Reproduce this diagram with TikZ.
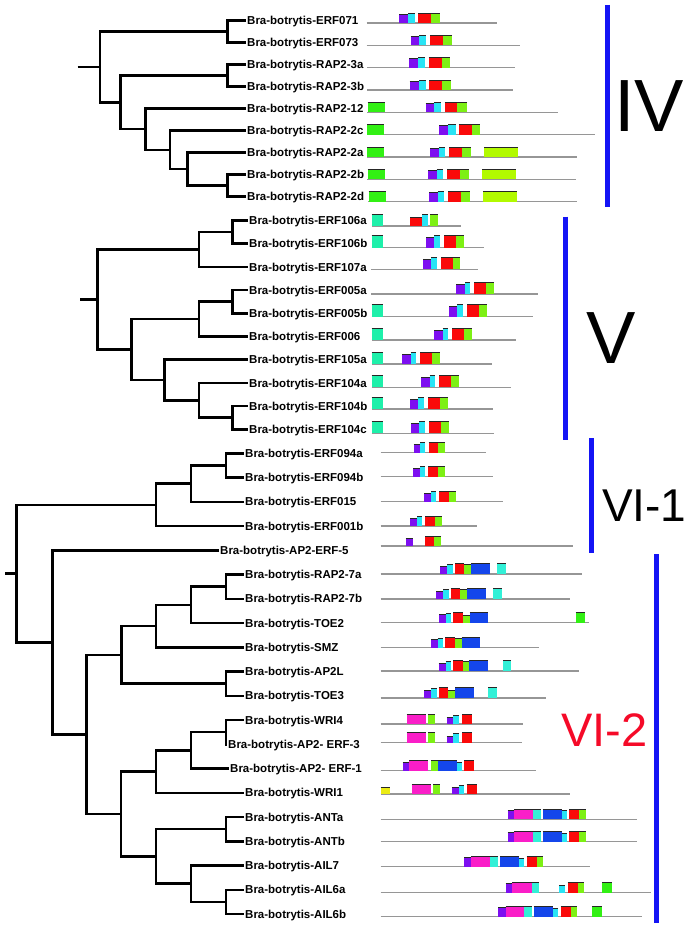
\documentclass[tikz,border=0pt]{standalone}
\usepackage{fontspec}
\setmainfont{Liberation Sans}
\usepackage{tikz}

\definecolor{dpurple}{RGB}{125,15,240}
\definecolor{dcyan}{RGB}{40,228,245}
\definecolor{dred}{RGB}{250,10,10}
\definecolor{dlime}{RGB}{125,240,20}
\definecolor{dgreen}{RGB}{50,240,20}
\definecolor{dyellowgreen}{RGB}{178,250,0}
\definecolor{dteal}{RGB}{30,240,170}
\definecolor{daqua}{RGB}{50,240,215}
\definecolor{dblue}{RGB}{20,70,235}
\definecolor{dmagenta}{RGB}{250,30,200}
\definecolor{dyellow}{RGB}{235,235,20}
\definecolor{rowgray}{RGB}{150,150,150}
\definecolor{barblue}{RGB}{20,20,245}
\definecolor{labelred}{RGB}{245,10,40}

% domain box: colour, left, right, baseline, height
\newcommand{\dbox}[5]{%
  \fill[#1] (#2,#4) rectangle (#3,#4-#5);
  \draw[box_top] (#2,#4-#5) -- (#3,#4-#5);}

\begin{document}
\begin{tikzpicture}[x=1pt,y=-1pt,
  leaf_node/.style={anchor=west,inner xsep=1pt,inner ysep=0pt,text height=8.3pt,text depth=0pt,font=\fontsize{11.5}{12}\selectfont\bfseries},
  branch/.style={line width=2.5pt},
  row_line/.style={draw=rowgray,line width=1.3pt},
  box_top/.style={line width=0.8pt,black!85},
  group_bar/.style={draw=barblue,line width=5pt},
  group_label/.style={anchor=base west,inner sep=0pt}]

\useasboundingbox (0,0) rectangle (689,928);

% ---------- group IV ----------
\node[leaf_node] (erf071) at (246,20.5) {Bra-botrytis-ERF071};
\node[leaf_node] (erf073) at (246,42.5) {Bra-botrytis-ERF073};
\node[leaf_node] (rap23a) at (246,64.5) {Bra-botrytis-RAP2-3a};
\node[leaf_node] (rap23b) at (246,86.5) {Bra-botrytis-RAP2-3b};
\node[leaf_node] (rap212) at (246,108.5) {Bra-botrytis-RAP2-12};
\node[leaf_node] (rap22c) at (246,130.5) {Bra-botrytis-RAP2-2c};
\node[leaf_node] (rap22a) at (246,152.5) {Bra-botrytis-RAP2-2a};
\node[leaf_node] (rap22b) at (246,174.5) {Bra-botrytis-RAP2-2b};
\node[leaf_node] (rap22d) at (246,196.5) {Bra-botrytis-RAP2-2d};

\coordinate (iv0) at (77.7,67);
\coordinate (iv1) at (100,67);
\coordinate (iv2) at (227.7,31.5);
\coordinate (iv3) at (120.7,102.5);
\coordinate (iv4) at (227.7,75.5);
\coordinate (iv5) at (145.7,129);
\coordinate (iv6) at (170,150);
\coordinate (iv7) at (187.7,169);
\coordinate (iv8) at (227.7,185.5);

\draw[branch] (iv0) -- (iv1);
\draw[branch] (iv1) |- (iv2);
\draw[branch] (iv1) |- (iv3);
\draw[branch] (iv2) |- (erf071.west);
\draw[branch] (iv2) |- (erf073.west);
\draw[branch] (iv3) |- (iv4);
\draw[branch] (iv3) |- (iv5);
\draw[branch] (iv4) |- (rap23a.west);
\draw[branch] (iv4) |- (rap23b.west);
\draw[branch] (iv5) |- (rap212.west);
\draw[branch] (iv5) |- (iv6);
\draw[branch] (iv6) |- (rap22c.west);
\draw[branch] (iv6) |- (iv7);
\draw[branch] (iv7) |- (rap22a.west);
\draw[branch] (iv7) |- (iv8);
\draw[branch] (iv8) |- (rap22b.west);
\draw[branch] (iv8) |- (rap22d.west);

% ---------- group V ----------
\node[leaf_node] (erf106a) at (248,220.5) {Bra-botrytis-ERF106a};
\node[leaf_node] (erf106b) at (248,243.7) {Bra-botrytis-ERF106b};
\node[leaf_node] (erf107a) at (248,266.9) {Bra-botrytis-ERF107a};
\node[leaf_node] (erf005a) at (248,290.1) {Bra-botrytis-ERF005a};
\node[leaf_node] (erf005b) at (248,313.3) {Bra-botrytis-ERF005b};
\node[leaf_node] (erf006) at (248,336.5) {Bra-botrytis-ERF006};
\node[leaf_node] (erf105a) at (248,359.7) {Bra-botrytis-ERF105a};
\node[leaf_node] (erf104a) at (248,382.9) {Bra-botrytis-ERF104a};
\node[leaf_node] (erf104b) at (248,406.1) {Bra-botrytis-ERF104b};
\node[leaf_node] (erf104c) at (248,429.3) {Bra-botrytis-ERF104c};

\coordinate (v0) at (80,299.5);
\coordinate (v1) at (97.7,299.5);
\coordinate (v2) at (199,249.5);
\coordinate (v3) at (232.3,232);
\coordinate (v4) at (131.7,349.5);
\coordinate (v5) at (199,319);
\coordinate (v6) at (232.3,301.7);
\coordinate (v7) at (164.3,380);
\coordinate (v8) at (199,400.3);
\coordinate (v9) at (232.3,417.7);

\draw[branch] (v0) -- (v1);
\draw[branch] (v1) |- (v2);
\draw[branch] (v1) |- (v4);
\draw[branch] (v2) |- (v3);
\draw[branch] (v2) |- (erf107a.west);
\draw[branch] (v3) |- (erf106a.west);
\draw[branch] (v3) |- (erf106b.west);
\draw[branch] (v4) |- (v5);
\draw[branch] (v4) |- (v7);
\draw[branch] (v5) |- (v6);
\draw[branch] (v5) |- (erf006.west);
\draw[branch] (v6) |- (erf005a.west);
\draw[branch] (v6) |- (erf005b.west);
\draw[branch] (v7) |- (erf105a.west);
\draw[branch] (v7) |- (v8);
\draw[branch] (v8) |- (erf104a.west);
\draw[branch] (v8) |- (v9);
\draw[branch] (v9) |- (erf104b.west);
\draw[branch] (v9) |- (erf104c.west);

% ---------- group VI ----------
\node[leaf_node] (erf094a) at (244,453.3) {Bra-botrytis-ERF094a};
\node[leaf_node] (erf094b) at (244,477.5) {Bra-botrytis-ERF094b};
\node[leaf_node] (erf015) at (244,501.8) {Bra-botrytis-ERF015};
\node[leaf_node] (erf001b) at (244,526) {Bra-botrytis-ERF001b};
\node[leaf_node] (aperf5) at (219,550.3) {Bra-botrytis-AP2-ERF-5};
\node[leaf_node] (rap27a) at (244,574.5) {Bra-botrytis-RAP2-7a};
\node[leaf_node] (rap27b) at (244,598.8) {Bra-botrytis-RAP2-7b};
\node[leaf_node] (toe2) at (244,623) {Bra-botrytis-TOE2};
\node[leaf_node] (smz) at (244,647.3) {Bra-botrytis-SMZ};
\node[leaf_node] (ap2l) at (244,671.5) {Bra-botrytis-AP2L};
\node[leaf_node] (toe3) at (244,695.8) {Bra-botrytis-TOE3};
\node[leaf_node] (wri4) at (244,720) {Bra-botrytis-WRI4};
\node[leaf_node] (aperf3) at (227,744.3) {Bra-botrytis-AP2- ERF-3};
\node[leaf_node] (aperf1) at (229,768.5) {Bra-botrytis-AP2- ERF-1};
\node[leaf_node] (wri1) at (244,792.8) {Bra-botrytis-WRI1};
\node[leaf_node] (anta) at (244,817) {Bra-botrytis-ANTa};
\node[leaf_node] (antb) at (244,841.3) {Bra-botrytis-ANTb};
\node[leaf_node] (ail7) at (244,865.5) {Bra-botrytis-AIL7};
\node[leaf_node] (ail6a) at (244,889.8) {Bra-botrytis-AIL6a};
\node[leaf_node] (ail6b) at (244,914) {Bra-botrytis-AIL6b};

\coordinate (vi0) at (5,573.6);
\coordinate (vi1) at (16.7,573.6);
\coordinate (vi2) at (156,504.8);
\coordinate (vi3) at (191,483.6);
\coordinate (vi4) at (226,465.4);
\coordinate (vi5) at (52.3,642.4);
\coordinate (vi6) at (86.7,734.5);
\coordinate (vi7) at (121.7,654.9);
\coordinate (vi8) at (156,626.1);
\coordinate (vi9) at (191,604.9);
\coordinate (vi10) at (226,586.7);
\coordinate (vi11) at (226,683.7);
\coordinate (vi12) at (121,814);
\coordinate (vi13) at (156,771.6);
\coordinate (vi14) at (191,750.4);
\coordinate (vi15) at (226,732.2);
\coordinate (vi16) at (156,856.5);
\coordinate (vi17) at (226,829.2);
\coordinate (vi18) at (191,883.7);
\coordinate (vi19) at (226,901.9);

\draw[branch] (vi0) -- (vi1);
\draw[branch] (vi1) |- (vi2);
\draw[branch] (vi1) |- (vi5);
\draw[branch] (vi2) |- (vi3);
\draw[branch] (vi2) |- (erf001b.west);
\draw[branch] (vi3) |- (vi4);
\draw[branch] (vi3) |- (erf015.west);
\draw[branch] (vi4) |- (erf094a.west);
\draw[branch] (vi4) |- (erf094b.west);
\draw[branch] (vi5) |- (aperf5.west);
\draw[branch] (vi5) |- (vi6);
\draw[branch] (vi6) |- (vi7);
\draw[branch] (vi6) |- (vi12);
\draw[branch] (vi7) |- (vi8);
\draw[branch] (vi7) |- (vi11);
\draw[branch] (vi8) |- (vi9);
\draw[branch] (vi8) |- (smz.west);
\draw[branch] (vi9) |- (vi10);
\draw[branch] (vi9) |- (toe2.west);
\draw[branch] (vi10) |- (rap27a.west);
\draw[branch] (vi10) |- (rap27b.west);
\draw[branch] (vi11) |- (ap2l.west);
\draw[branch] (vi11) |- (toe3.west);
\draw[branch] (vi12) |- (vi13);
\draw[branch] (vi12) |- (vi16);
\draw[branch] (vi13) |- (vi14);
\draw[branch] (vi13) |- (wri1.west);
\draw[branch] (vi14) |- (vi15);
\draw[branch] (vi14) |- (aperf1.west);
\draw[branch] (vi15) |- (wri4.west);
\draw[branch] (vi15) |- (aperf3.west);
\draw[branch] (vi16) |- (vi17);
\draw[branch] (vi16) |- (vi18);
\draw[branch] (vi17) |- (anta.west);
\draw[branch] (vi17) |- (antb.west);
\draw[branch] (vi18) |- (ail7.west);
\draw[branch] (vi18) |- (vi19);
\draw[branch] (vi19) |- (ail6a.west);
\draw[branch] (vi19) |- (ail6b.west);

% ---------- domain rows, group IV ----------
\draw[row_line] (366.7,23) -- (496.7,23);
\dbox{dpurple}{399}{408.3}{23}{9}\dbox{dcyan}{408.3}{415}{23}{10}
\dbox{dred}{418.3}{431}{23}{10}\dbox{dlime}{431}{440}{23}{10}

\draw[row_line] (366.7,45.4) -- (520,45.4);
\dbox{dpurple}{410.7}{419.3}{45.4}{9}\dbox{dcyan}{419.3}{426}{45.4}{10}
\dbox{dred}{430}{442.7}{45.4}{10}\dbox{dlime}{442.7}{451.7}{45.4}{10}

\draw[row_line] (367,67.7) -- (515,67.7);
\dbox{dpurple}{409.3}{418.3}{67.7}{9}\dbox{dcyan}{418.3}{425}{67.7}{10}
\dbox{dred}{428.7}{441.7}{67.7}{10}\dbox{dlime}{441.7}{450}{67.7}{10}

\draw[row_line] (367,90) -- (512.7,90);
\dbox{dpurple}{409.7}{419}{90}{9}\dbox{dcyan}{419}{426}{90}{10}
\dbox{dred}{429.3}{442.3}{90}{10}\dbox{dlime}{442.3}{451}{90}{10}

\draw[row_line] (367.3,112.4) -- (558.3,112.4);
\dbox{dgreen}{367.7}{385}{112.4}{10}
\dbox{dpurple}{425.7}{434.3}{112.4}{9}\dbox{dcyan}{434.3}{441}{112.4}{10}
\dbox{dred}{444.7}{457.3}{112.4}{10}\dbox{dlime}{457.3}{466.7}{112.4}{10}

\draw[row_line] (367,134.8) -- (595,134.8);
\dbox{dgreen}{367}{384.3}{134.8}{10}
\dbox{dpurple}{439.3}{448.3}{134.8}{9}\dbox{dcyan}{448.3}{455.7}{134.8}{10}
\dbox{dred}{458.7}{471.7}{134.8}{10}\dbox{dlime}{471.7}{480}{134.8}{10}

\draw[row_line] (367,157.1) -- (577.3,157.1);
\dbox{dgreen}{367}{384.3}{157.1}{10}
\dbox{dpurple}{430}{439}{157.1}{9}\dbox{dcyan}{439}{445.3}{157.1}{10}
\dbox{dred}{449}{461.7}{157.1}{10}\dbox{dlime}{461.7}{470.7}{157.1}{10}
\dbox{dyellowgreen}{484}{518}{157.1}{10}

\draw[row_line] (367,179.5) -- (576,179.5);
\dbox{dgreen}{367.7}{385}{179.5}{10}
\dbox{dpurple}{428}{436.7}{179.5}{9}\dbox{dcyan}{436.7}{443.3}{179.5}{10}
\dbox{dred}{447.3}{460}{179.5}{10}\dbox{dlime}{460}{468.7}{179.5}{10}
\dbox{dyellowgreen}{482}{516}{179.5}{10}

\draw[row_line] (368,201.8) -- (576.7,201.8);
\dbox{dgreen}{368.7}{386}{201.8}{10}
\dbox{dpurple}{429}{437.7}{201.8}{9}\dbox{dcyan}{437.7}{444.3}{201.8}{10}
\dbox{dred}{448.3}{461}{201.8}{10}\dbox{dlime}{461}{470}{201.8}{10}
\dbox{dyellowgreen}{483.3}{517.3}{201.8}{10}

% ---------- domain rows, group V ----------
\draw[row_line] (371.7,226) -- (460.7,226);
\dbox{dteal}{371.7}{382.7}{226}{12}
\dbox{dred}{410}{422}{226}{9}\dbox{dcyan}{422}{428}{226}{12}
\dbox{dlime}{430}{437.7}{226}{12}

\draw[row_line] (371.7,247.7) -- (484,247.7);
\dbox{dteal}{371.7}{382.7}{247.7}{12}
\dbox{dpurple}{426.3}{434}{247.7}{10}\dbox{dcyan}{434}{440.3}{247.7}{12}
\dbox{dred}{444.3}{456}{247.7}{12}\dbox{dlime}{456}{463.7}{247.7}{12}

\draw[row_line] (371,269.3) -- (478.3,269.3);
\dbox{dpurple}{423}{431.3}{269.3}{10}\dbox{dcyan}{431.3}{437}{269.3}{12}
\dbox{dred}{441}{452.7}{269.3}{12}\dbox{dlime}{452.7}{460.3}{269.3}{12}

\draw[row_line] (371,294) -- (538.3,294);
\dbox{dpurple}{456.3}{465}{294}{10}\dbox{dcyan}{465}{470.3}{294}{12}
\dbox{dred}{474.3}{486}{294}{12}\dbox{dlime}{486}{494}{294}{12}

\draw[row_line] (371.7,316.7) -- (532.7,316.7);
\dbox{dteal}{371.7}{382.7}{316.7}{12}
\dbox{dpurple}{449}{457.3}{316.7}{10}\dbox{dcyan}{457.3}{463}{316.7}{12}
\dbox{dred}{467}{478.7}{316.7}{12}\dbox{dlime}{478.7}{486.7}{316.7}{12}

\draw[row_line] (371.7,340) -- (515.7,340);
\dbox{dteal}{371.7}{382.7}{340}{12}
\dbox{dpurple}{434.3}{442.7}{340}{10}\dbox{dcyan}{442.7}{448.3}{340}{12}
\dbox{dred}{452.3}{464}{340}{12}\dbox{dlime}{464}{471.7}{340}{12}

\draw[row_line] (371.7,364) -- (491.7,364);
\dbox{dteal}{371.7}{382.7}{364}{12}
\dbox{dpurple}{402.3}{410.7}{364}{10}\dbox{dcyan}{410.7}{416.3}{364}{12}
\dbox{dred}{420.3}{432}{364}{12}\dbox{dlime}{432}{439.7}{364}{12}

\draw[row_line] (371.7,387.3) -- (510.7,387.3);
\dbox{dteal}{371.7}{382.7}{387.3}{12}
\dbox{dpurple}{421.3}{429.7}{387.3}{10}\dbox{dcyan}{429.7}{435.3}{387.3}{12}
\dbox{dred}{439.3}{451}{387.3}{12}\dbox{dlime}{451}{458.7}{387.3}{12}

\draw[row_line] (371.7,409) -- (492.7,409);
\dbox{dteal}{371.7}{382.7}{409}{12}
\dbox{dpurple}{410}{418}{409}{10}\dbox{dcyan}{418}{423.7}{409}{12}
\dbox{dred}{428}{439.7}{409}{12}\dbox{dlime}{439.7}{447.7}{409}{12}

\draw[row_line] (371.7,433.3) -- (494,433.3);
\dbox{dteal}{371.7}{382.7}{433.3}{12}
\dbox{dpurple}{411.3}{419.3}{433.3}{10}\dbox{dcyan}{419.3}{425.3}{433.3}{12}
\dbox{dred}{429.3}{441}{433.3}{12}\dbox{dlime}{441}{448.7}{433.3}{12}

% ---------- domain rows, group VI-1 ----------
\draw[row_line] (380.7,452.7) -- (485.7,452.7);
\dbox{dpurple}{413.7}{420.3}{452.7}{8}\dbox{dcyan}{420.3}{425.3}{452.7}{10}
\dbox{dred}{428.7}{438.3}{452.7}{10}\dbox{dlime}{438.3}{445.3}{452.7}{10}

\draw[row_line] (380.7,476.7) -- (492.7,476.7);
\dbox{dpurple}{413.3}{420}{476.7}{8}\dbox{dcyan}{420}{425.3}{476.7}{10}
\dbox{dred}{428.3}{438.3}{476.7}{10}\dbox{dlime}{438.3}{445}{476.7}{10}

\draw[row_line] (380.7,501.7) -- (503.3,501.7);
\dbox{dpurple}{424.3}{431}{501.7}{8}\dbox{dcyan}{431}{436}{501.7}{10}
\dbox{dred}{439.3}{449}{501.7}{10}\dbox{dlime}{449}{455.7}{501.7}{10}

\draw[row_line] (380.7,526) -- (477,526);
\dbox{dpurple}{410}{417}{526}{8}\dbox{dcyan}{417}{422}{526}{10}
\dbox{dred}{425.3}{435}{526}{10}\dbox{dlime}{435}{441.7}{526}{10}

\draw[row_line] (380.7,546) -- (573,546);
\dbox{dpurple}{405.7}{412.7}{546}{8}
\dbox{dred}{425}{434}{546}{10}\dbox{dlime}{434}{441}{546}{10}

% ---------- domain rows, group VI-2 ----------
\draw[row_line] (380.7,574) -- (582.3,574);
\dbox{dpurple}{440.3}{447.3}{574}{8}\dbox{dcyan}{447.3}{452.7}{574}{9.3}
\dbox{dred}{455}{464}{574}{10.5}\dbox{dlime}{464}{471}{574}{9.5}
\dbox{dblue}{471}{490}{574}{10.5}\dbox{daqua}{497.3}{505.7}{574}{10.5}

\draw[row_line] (380.7,599) -- (570,599);
\dbox{dpurple}{436.3}{443.3}{599}{8}\dbox{dcyan}{443.3}{449}{599}{9.3}
\dbox{dred}{450.7}{460.3}{599}{10.5}\dbox{dlime}{460.3}{467}{599}{9.5}
\dbox{dblue}{467}{486}{599}{10.5}\dbox{daqua}{493.3}{502}{599}{10.5}

\draw[row_line] (380.7,622.7) -- (589.3,622.7);
\dbox{dpurple}{439}{446}{622.7}{8}\dbox{dcyan}{446}{451}{622.7}{9.3}
\dbox{dred}{453.3}{462.7}{622.7}{10.5}\dbox{dlime}{462.7}{469.7}{622.7}{7.5}
\dbox{dblue}{469.7}{488.3}{622.7}{10.5}\dbox{dgreen}{575.7}{585.3}{622.7}{10.5}

\draw[row_line] (380.7,647.7) -- (538.7,647.7);
\dbox{dpurple}{431}{437.7}{647.7}{8}\dbox{dcyan}{437.7}{443.3}{647.7}{9.3}
\dbox{dred}{445.3}{454.7}{647.7}{10.5}\dbox{dlime}{454.7}{461.7}{647.7}{9.5}
\dbox{dblue}{461.7}{480.3}{647.7}{10.5}

\draw[row_line] (380.7,671) -- (579,671);
\dbox{dpurple}{438.7}{445.7}{671}{8}\dbox{dcyan}{445.7}{451}{671}{9.3}
\dbox{dred}{453.3}{462.7}{671}{10.5}\dbox{dlime}{462.7}{469.3}{671}{9.5}
\dbox{dblue}{469.3}{488.3}{671}{10.5}\dbox{daqua}{503.3}{511.3}{671}{10.5}

\draw[row_line] (380.7,698) -- (546,698);
\dbox{dpurple}{424.3}{431.3}{698}{8}\dbox{dcyan}{431.3}{436.7}{698}{9.3}
\dbox{dred}{438.7}{448.3}{698}{10.5}\dbox{dlime}{448.3}{455}{698}{7.5}
\dbox{dblue}{455}{473.7}{698}{10.5}\dbox{daqua}{488.3}{496.7}{698}{10.5}

\draw[row_line] (380.7,724) -- (522.7,724);
\dbox{dmagenta}{406.7}{425.7}{724}{10}\dbox{dlime}{428.3}{435}{724}{10}
\dbox{dpurple}{446.7}{453.3}{724}{6.3}\dbox{dcyan}{453.3}{459.3}{724}{9}
\dbox{dred}{462}{471.7}{724}{10}

\draw[row_line] (380.7,742.7) -- (522.3,742.7);
\dbox{dmagenta}{406.7}{425.7}{742.7}{10}\dbox{dlime}{428.3}{435}{742.7}{10}
\dbox{dpurple}{446.7}{453.3}{742.7}{6.3}\dbox{dcyan}{453.3}{459.3}{742.7}{9}
\dbox{dred}{462}{471.7}{742.7}{10}

\draw[row_line] (380.7,770.7) -- (535.7,770.7);
\dbox{dpurple}{402.7}{409.3}{770.7}{8}\dbox{dmagenta}{409.3}{428.3}{770.7}{10}
\dbox{dlime}{431.3}{437.7}{770.7}{10}\dbox{dblue}{437.7}{456.7}{770.7}{10}
\dbox{dcyan}{456.7}{461.7}{770.7}{8.5}\dbox{dred}{464.3}{474}{770.7}{10}

\draw[row_line] (380.7,794) -- (570,794);
\dbox{dyellow}{380.7}{390}{794}{6.5}
\dbox{dmagenta}{411.7}{430.7}{794}{10}\dbox{dlime}{433.3}{440}{794}{10}
\dbox{dpurple}{451.7}{458.7}{794}{6.3}\dbox{dcyan}{458.7}{464}{794}{9}
\dbox{dred}{466.7}{476.7}{794}{10}

\draw[row_line] (380.7,819.3) -- (636.7,819.3);
\dbox{dpurple}{507.7}{514.3}{819.3}{9}\dbox{dmagenta}{514.3}{533.3}{819.3}{10.3}
\dbox{daqua}{533.3}{541.3}{819.3}{10.3}\dbox{dblue}{542.7}{561.7}{819.3}{10.3}
\dbox{dcyan}{561.7}{566.7}{819.3}{8.7}\dbox{dred}{569.3}{579.3}{819.3}{10.3}
\dbox{dlime}{579.3}{586}{819.3}{10.3}

\draw[row_line] (380.7,841.7) -- (636.7,841.7);
\dbox{dpurple}{507.7}{514.3}{841.7}{9}\dbox{dmagenta}{514.3}{533.3}{841.7}{10.3}
\dbox{daqua}{533.3}{541.3}{841.7}{10.3}\dbox{dblue}{542.7}{561.7}{841.7}{10.3}
\dbox{dcyan}{561.7}{566.7}{841.7}{8.7}\dbox{dred}{569.3}{579.3}{841.7}{10.3}
\dbox{dlime}{579.3}{586}{841.7}{10.3}

\draw[row_line] (380.7,866.7) -- (590,866.7);
\dbox{dpurple}{464.3}{471.3}{866.7}{9}\dbox{dmagenta}{471.3}{490.3}{866.7}{10.3}
\dbox{daqua}{490.3}{498}{866.7}{10.3}\dbox{dblue}{500}{518.7}{866.7}{10.3}
\dbox{dcyan}{518.7}{523.7}{866.7}{8.7}\dbox{dred}{526.7}{536.7}{866.7}{10.3}
\dbox{dlime}{536.7}{543}{866.7}{10.3}

\draw[row_line] (380.7,892.7) -- (651,892.7);
\dbox{dpurple}{505.7}{512.3}{892.7}{9}\dbox{dmagenta}{512.3}{531.7}{892.7}{10.3}
\dbox{daqua}{531.7}{539.3}{892.7}{10.3}\dbox{dcyan}{559.3}{564.7}{892.7}{7.5}
\dbox{dred}{567.7}{577.7}{892.7}{10.3}\dbox{dlime}{577.7}{583.7}{892.7}{10.3}
\dbox{dgreen}{602}{611.7}{892.7}{10.3}

\draw[row_line] (380.7,916.7) -- (641.7,916.7);
\dbox{dpurple}{498.3}{505.7}{916.7}{9}\dbox{dmagenta}{505.7}{524.3}{916.7}{10.3}
\dbox{daqua}{524.3}{532.3}{916.7}{10.3}\dbox{dblue}{533.7}{552.7}{916.7}{10.3}
\dbox{dcyan}{552.7}{558}{916.7}{8.7}\dbox{dred}{560.7}{570.7}{916.7}{10.3}
\dbox{dlime}{570.7}{577}{916.7}{10.3}\dbox{dgreen}{592.3}{602}{916.7}{10.3}

% ---------- group bars and labels ----------
\draw[group_bar] (607.3,5) -- (607.3,206.7);
\draw[group_bar] (565.7,216.7) -- (565.7,440);
\draw[group_bar] (591,438.3) -- (591,553.3);
\draw[group_bar] (656,554) -- (656,923.3);

\node[group_label,font=\fontsize{74}{74}\selectfont] (lbl_iv) at (614,131.7) {IV};
\node[group_label,font=\fontsize{74}{74}\selectfont] (lbl_v) at (586,363.3) {V};
\node[group_label,font=\fontsize{46}{46}\selectfont] (lbl_vi1) at (602,521.7) {VI-1};
\node[group_label,font=\fontsize{47}{47}\selectfont,text=labelred] (lbl_vi2) at (561,746) {VI-2};

\end{tikzpicture}
\end{document}
